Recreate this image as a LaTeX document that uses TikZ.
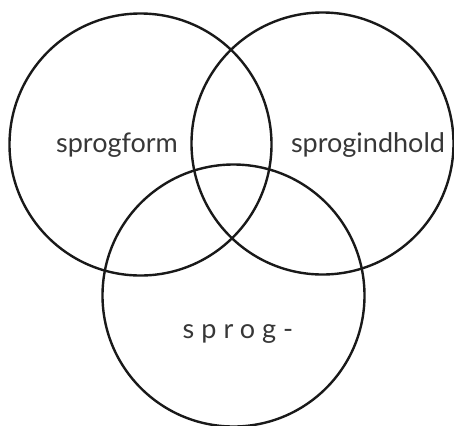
\documentclass[tikz,border=0pt]{standalone}
\usepackage{fontspec}
\setmainfont{Lato}
\usepackage{tikz}
\usetikzlibrary{positioning}
\definecolor{ring}{RGB}{25, 25, 25}
\definecolor{inkgray}{RGB}{55, 55, 55}

\begin{document}
\begin{tikzpicture}[
  x=0.5pt, y=-0.5pt,
  set/.style={circle, draw=ring, line width=1.2pt, minimum size=131pt, inner sep=0pt},
  lbl/.style={font=\fontsize{13.5}{15}\selectfont\color{inkgray}},
]
  \useasboundingbox (0,0) rectangle (454,425);
  \node[set] (form) at (140.5, 144.5) {};
  \node[set] (indhold) at (322.5, 143.5) {};
  \node[set] (sprog) at (233.5, 295.5) {};
  \node[lbl] (tform) at (117, 145) {sprogform};
  \node[lbl] (tindhold) at (368, 145) {sprogindhold};
  \node[lbl, font=\fontsize{13.5}{15}\selectfont\addfontfeatures{LetterSpace=26}\color{inkgray}] (tsprog) at (238, 334) {sprog-};
\end{tikzpicture}
\end{document}
